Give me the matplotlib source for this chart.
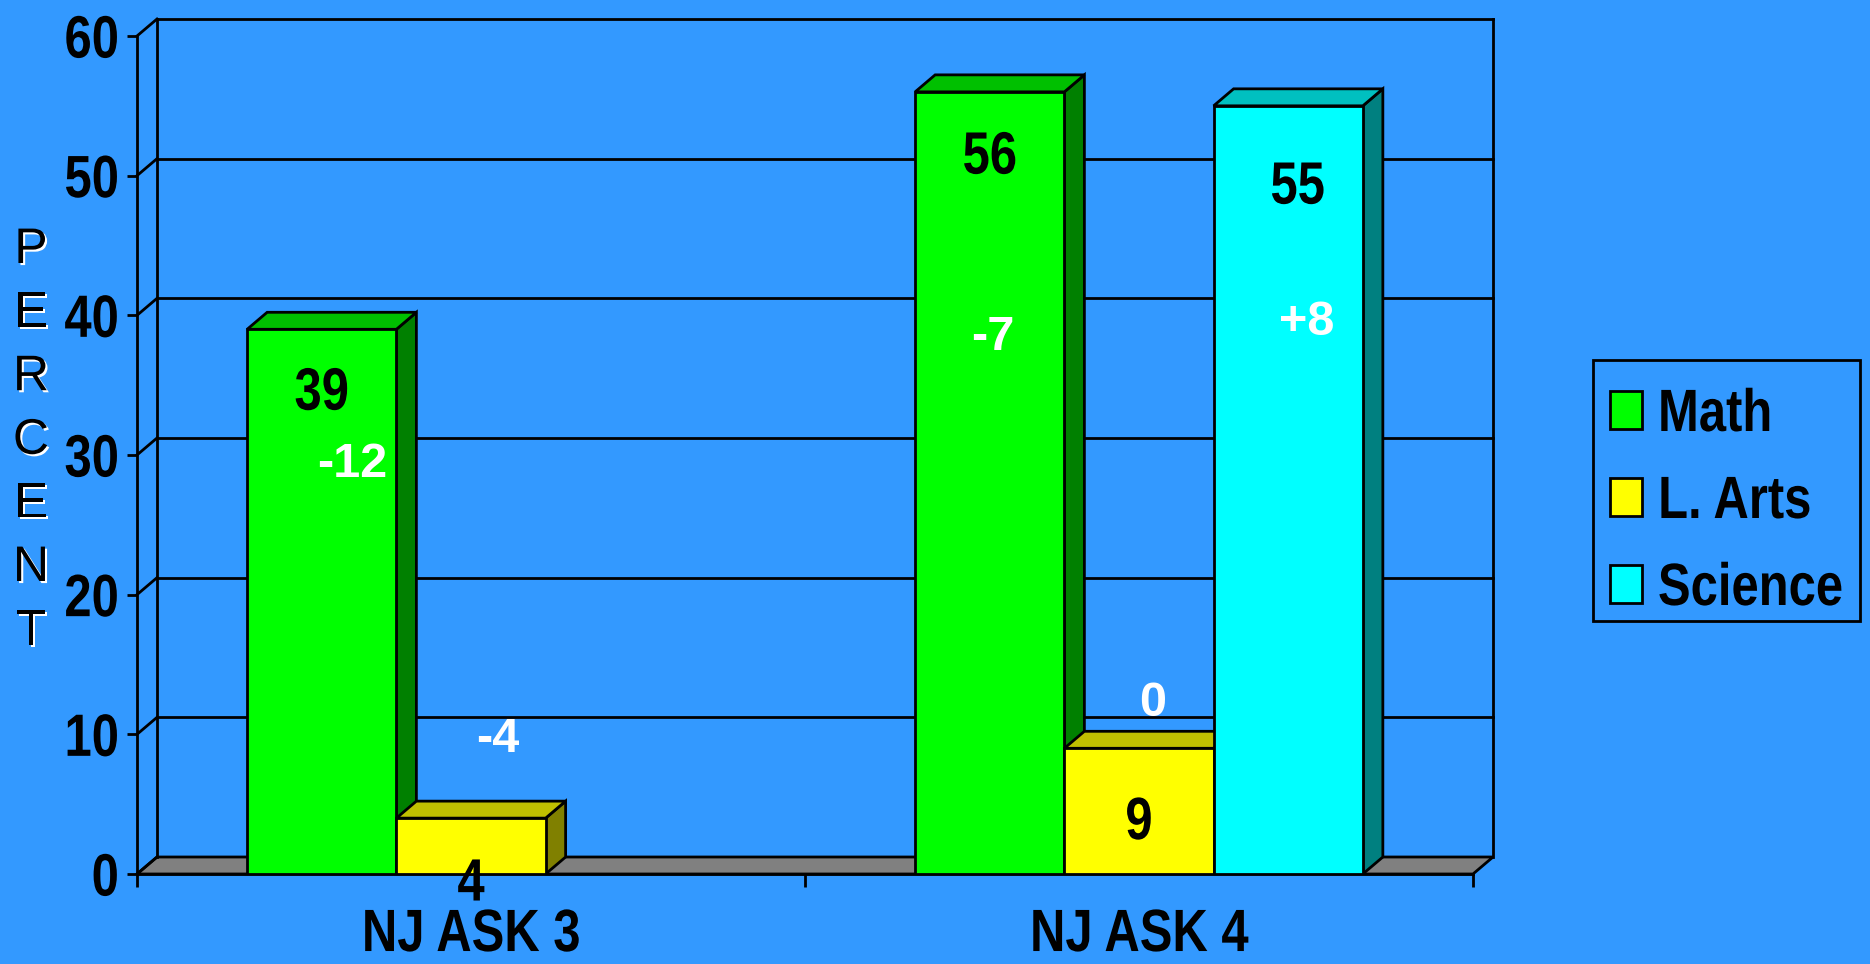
import matplotlib
matplotlib.use('Agg')
import matplotlib.pyplot as plt
from matplotlib.patches import Polygon, Rectangle
from matplotlib.transforms import Affine2D
import matplotlib.patheffects as pe
import matplotlib.colors as mcolors

# ---------------- data ----------------
categories = ['NJ ASK 3', 'NJ ASK 4']
series = ['Math', 'L. Arts', 'Science']
math_vals = [39, 56]
larts_vals = [4, 9]
science_vals = [None, 55]
math_change = ['-12', '-7']
larts_change = ['-4', '0']
science_change = [None, '+8']
y_ticks = [0, 10, 20, 30, 40, 50, 60]
y_title = 'PERCENT'

SX = 0.82  # horizontal squeeze that emulates the narrow bold face


# ---------------- narrow-font emulation (horizontal squeeze of real text) ----
class Condensed(pe.AbstractPathEffect):
    def __init__(self, sx=SX, anchor='center', offset=(0, 0), color=None):
        super().__init__(offset=offset)
        self.sx = sx
        self.anchor = anchor
        self.color = color

    def draw_path(self, renderer, gc, tpath, affine, rgbFace=None):
        ext = tpath.get_extents()
        ref = {'left': ext.x0, 'center': 0.5 * (ext.x0 + ext.x1),
               'right': ext.x1}[self.anchor]
        squeeze = Affine2D().translate(-ref, 0).scale(self.sx, 1).translate(ref, 0)
        face = mcolors.to_rgba(self.color) if self.color is not None else rgbFace
        renderer.draw_path(gc, tpath,
                           squeeze + affine + self._offset_transform(renderer), face)


# ---------------- style ----------------
plt.rcParams['font.family'] = ['Liberation Sans', 'DejaVu Sans']
BG = '#3399FF'
series_colors = [('#00FF00', '#00C000', '#008000'),
                 ('#FFFF00', '#C0C000', '#808000'),
                 ('#00FFFF', '#00C0C0', '#008080')]
W, H, DPI = 1870, 964, 100
fig = plt.figure(figsize=(W / DPI, H / DPI), dpi=DPI, facecolor=BG)

# front plane of the plot area, in pixels
X0, X1 = 137, 1473
Y0, Y1 = 874, 36
ax = fig.add_axes([X0 / W, 1 - Y0 / H, (X1 - X0) / W, (Y0 - Y1) / H])
ax.set_xlim(0, 2)
ax.set_ylim(0, 60)
ax.set_facecolor('none')

DXP, DYP = 20, 17
dx = DXP / (X1 - X0) * 2
dy = DYP / (Y0 - Y1) * 60
LW = 2
BIG = 43

kw = dict(color='black', lw=LW, clip_on=False, zorder=1, solid_capstyle='projecting')
# floor
ax.add_patch(Polygon([(0, 0), (2, 0), (2 + dx, dy), (dx, dy)], closed=True,
                     facecolor='#808080', edgecolor='black', lw=LW,
                     clip_on=False, zorder=1))
# back wall gridlines
for v in y_ticks[1:]:
    ax.plot([dx, 2 + dx], [v + dy, v + dy], **kw)
# side wall diagonals
for v in y_ticks:
    ax.plot([0, dx], [v, v + dy], **kw)
ax.plot([dx, dx], [dy, 60 + dy], **kw)
ax.plot([2 + dx, 2 + dx], [dy, 60 + dy], **kw)

# ---------------- bars ----------------
width = 0.2234
offsets = [-width, 0, width]
all_vals = [math_vals, larts_vals, science_vals]
all_changes = [math_change, larts_change, science_change]
# manual placement of the change annotations (x offset from bar centre, y in data)
change_pos = {(0, 0): (0.045, 29.3), (0, 1): (0.005, 38.4),
              (1, 0): (0.040, 9.6), (1, 1): (0.020, 12.2),
              (2, 1): (0.027, 39.5)}
# value-label placement: (x offset, baseline drop below bar top)
value_pos = {(0, 0): (0.0, 5.75), (0, 1): (0.0, 5.85),
             (1, 0): (0.0, 5.9), (1, 1): (0.0, 6.5),
             (2, 1): (0.014, 7.0)}

for s_i, vals in enumerate(all_vals):
    front, top, side = series_colors[s_i]
    for c_i, v in enumerate(vals):
        if v is None:
            continue
        x = c_i + 0.5 + offsets[s_i]
        z = 3 + x
        ax.bar(x, v, width, color=front, edgecolor='black', lw=LW, zorder=z + 0.01)
        xr = x + width / 2
        xl = x - width / 2
        ax.add_patch(Polygon([(xr, 0), (xr, v), (xr + dx, v + dy), (xr + dx, dy)],
                             closed=True, facecolor=side, edgecolor='black',
                             lw=LW, zorder=z, joinstyle='miter'))
        ax.add_patch(Polygon([(xl, v), (xr, v), (xr + dx, v + dy), (xl + dx, v + dy)],
                             closed=True, facecolor=top, edgecolor='black',
                             lw=LW, zorder=z, joinstyle='miter'))
        vx, vdrop = value_pos[(s_i, c_i)]
        ax.text(x + vx, v - vdrop, str(v), ha='center', va='baseline', fontsize=BIG,
                fontweight='bold', color='black', zorder=20,
                path_effects=[Condensed(anchor='center')])
        ch = all_changes[s_i][c_i]
        if ch is not None:
            ox, oy = change_pos[(s_i, c_i)]
            ax.text(x + ox, oy, ch, ha='center', va='center', fontsize=35,
                    fontweight='bold', color='white', zorder=20)

# ---------------- axes ----------------
for sp in ['top', 'right']:
    ax.spines[sp].set_visible(False)
for sp in ['left', 'bottom']:
    ax.spines[sp].set_linewidth(LW)
    ax.spines[sp].set_zorder(2)
ax.set_yticks(y_ticks)
ax.set_yticklabels([str(t) for t in y_ticks], fontweight='bold',
                   path_effects=[Condensed(anchor='right')])
ax.tick_params(axis='y', length=7.2, width=LW, pad=5.5, labelsize=BIG)
ax.set_xticks([0, 1, 2])
ax.set_xticklabels(['', '', ''])
ax.set_xticks([0.5, 1.5], minor=True)
ax.set_xticklabels(categories, minor=True, fontweight='bold',
                   path_effects=[Condensed(anchor='center')])
ax.tick_params(axis='x', which='major', length=9, width=LW, direction='out')
ax.tick_params(axis='x', which='minor', length=0, pad=24.5, labelsize=BIG)

# vertical title
for i, ch in enumerate(y_title):
    fig.text(31 / W, 1 - (263 + i * 63.6) / H, ch, ha='center', va='baseline',
             fontsize=36, color='black',
             path_effects=[Condensed(sx=1.0, anchor='center', offset=(1.5, -1.5),
                                     color='white'),
                           Condensed(sx=1.0, anchor='center')])

# legend (frame, swatches, labels laid out like the original)
LX0, LX1, LY0, LY1 = 1593, 1860, 360, 621
fig.add_artist(Rectangle((LX0 / W, 1 - LY1 / H), (LX1 - LX0) / W, (LY1 - LY0) / H,
                         transform=fig.transFigure, facecolor=BG,
                         edgecolor='black', lw=LW))
renderer = fig.canvas.get_renderer()
for i, name in enumerate(series):
    yc = 410 + i * 87
    fig.add_artist(Rectangle((1610 / W, 1 - (yc + 19) / H), 32 / W, 38 / H,
                             transform=fig.transFigure,
                             facecolor=series_colors[i][0], edgecolor='black', lw=LW))
    t = fig.text(1658 / W, 1 - (yc + 21) / H, name, ha='left', va='baseline',
                 fontsize=BIG, fontweight='bold', color='black',
                 path_effects=[Condensed(anchor='center')])
    w = t.get_window_extent(renderer=renderer).width
    t.set_x((1658 + SX * w / 2) / W)
    t.set_ha('center')

fig.savefig('out.png', dpi=DPI, facecolor=BG)
